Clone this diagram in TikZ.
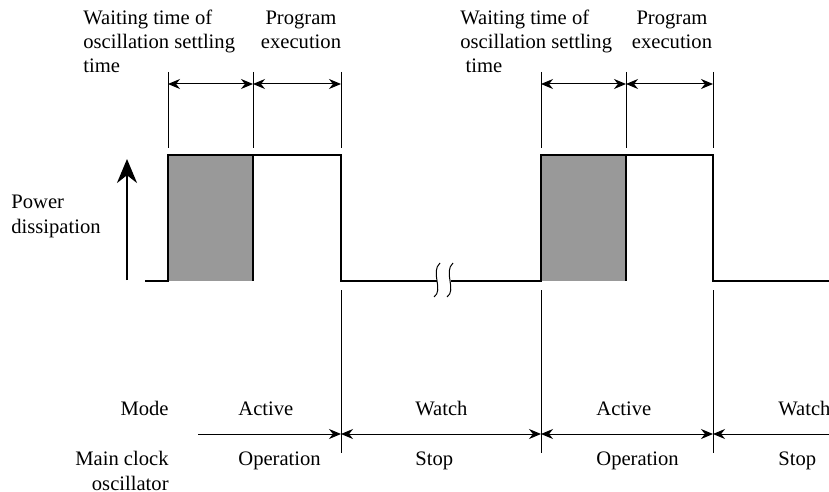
\documentclass[tikz,border=0pt]{standalone}
\usepackage{fontspec}
\setmainfont{Liberation Serif}
\usetikzlibrary{arrows.meta}

\begin{document}
\begin{tikzpicture}[x=0.5pt, y=-0.5pt,
            lbl/.style={inner sep=0pt, font=\fontsize{10.3}{12.2}\selectfont},
            wave/.style={line width=1.3pt},
            guide/.style={line width=0.5pt},
            dim/.style={line width=0.5pt, {Stealth[length=6pt,width=5pt]}-{Stealth[length=6pt,width=5pt]}},
            half/.style={line width=0.5pt, -{Stealth[length=6pt,width=5pt]}}]
            \useasboundingbox (0,0) rectangle (829,492);

            % time marks
            \coordinate (s1) at (168,84);
            \coordinate (e1) at (253,84);
            \coordinate (p1) at (341,84);
            \coordinate (s2) at (541,84);
            \coordinate (e2) at (626,84);
            \coordinate (p2) at (713,84);
            \coordinate (m0) at (198,434);
            \coordinate (m1) at (341,434);
            \coordinate (m2) at (541,434);
            \coordinate (m3) at (713,434);
            \coordinate (m4) at (829,434);

            \fill[black!40] (168,155) rectangle (253,281);
            \fill[black!40] (541,155) rectangle (626,281);

            \draw[wave] (145,281) -- (168,281) -- (168,155) -- (341,155) -- (341,281) -- (437,281);
            \draw[wave] (451,281) -- (541,281) -- (541,155) -- (713,155) -- (713,281) -- (829,281);
            \draw[wave] (253,155) -- (253,281);
            \draw[wave] (626,155) -- (626,281);
            \draw[guide] (440,263) .. controls (430,272) and (444,290) .. (434,297);
            \draw[guide] (453,263) .. controls (443,272) and (457,290) .. (447,297);

            \foreach \x in {168,253,341,541,626,713}
                \draw[guide] (\x,72) -- (\x,148);
            \foreach \x in {341,541,713}
                \draw[guide] (\x,290) -- (\x,453);

            \draw[dim] (s1) -- (e1);
            \draw[dim] (e1) -- (p1);
            \draw[dim] (s2) -- (e2);
            \draw[dim] (e2) -- (p2);

            \draw[line width=1.3pt, -{Stealth[length=12pt,width=10pt]}] (127,280) -- (127,159);

            \draw[half] (m0) -- (m1);
            \draw[dim] (m1) -- (m2);
            \draw[dim] (m2) -- (m3);
            \draw[half] (m4) -- (m3);

            \node[lbl, anchor=base west, align=left] (wait1) at (83,73) {Waiting time of\\oscillation settling\\time};
            \node[lbl, anchor=base, align=center] (prog1) at (301,49) {Program\\execution};
            \node[lbl, anchor=base west, align=left] (wait2) at (460,73) {Waiting time of\\oscillation settling\\\ time};
            \node[lbl, anchor=base, align=center] (prog2) at (672,49) {Program\\execution};
            \node[lbl, anchor=base west, align=left] (power) at (11,233) {Power\\dissipation};

            \node[lbl, anchor=base east] (mode) at (169,415) {Mode};
            \node[lbl, anchor=base east, align=right] (osc) at (169,490) {Main clock\hspace{3pt}\\oscillator};
            \node[lbl, anchor=base west] (act1) at (238,415) {Active};
            \node[lbl, anchor=base west] (op1) at (238,465) {Operation};
            \node[lbl, anchor=base west] (watch1) at (415,415) {Watch};
            \node[lbl, anchor=base west] (stop1) at (415,465) {Stop};
            \node[lbl, anchor=base west] (act2) at (596,415) {Active};
            \node[lbl, anchor=base west] (op2) at (596,465) {Operation};
            \node[lbl, anchor=base west] (watch2) at (778,415) {Watch};
            \node[lbl, anchor=base west] (stop2) at (778,465) {Stop};
        \end{tikzpicture}
\end{document}
